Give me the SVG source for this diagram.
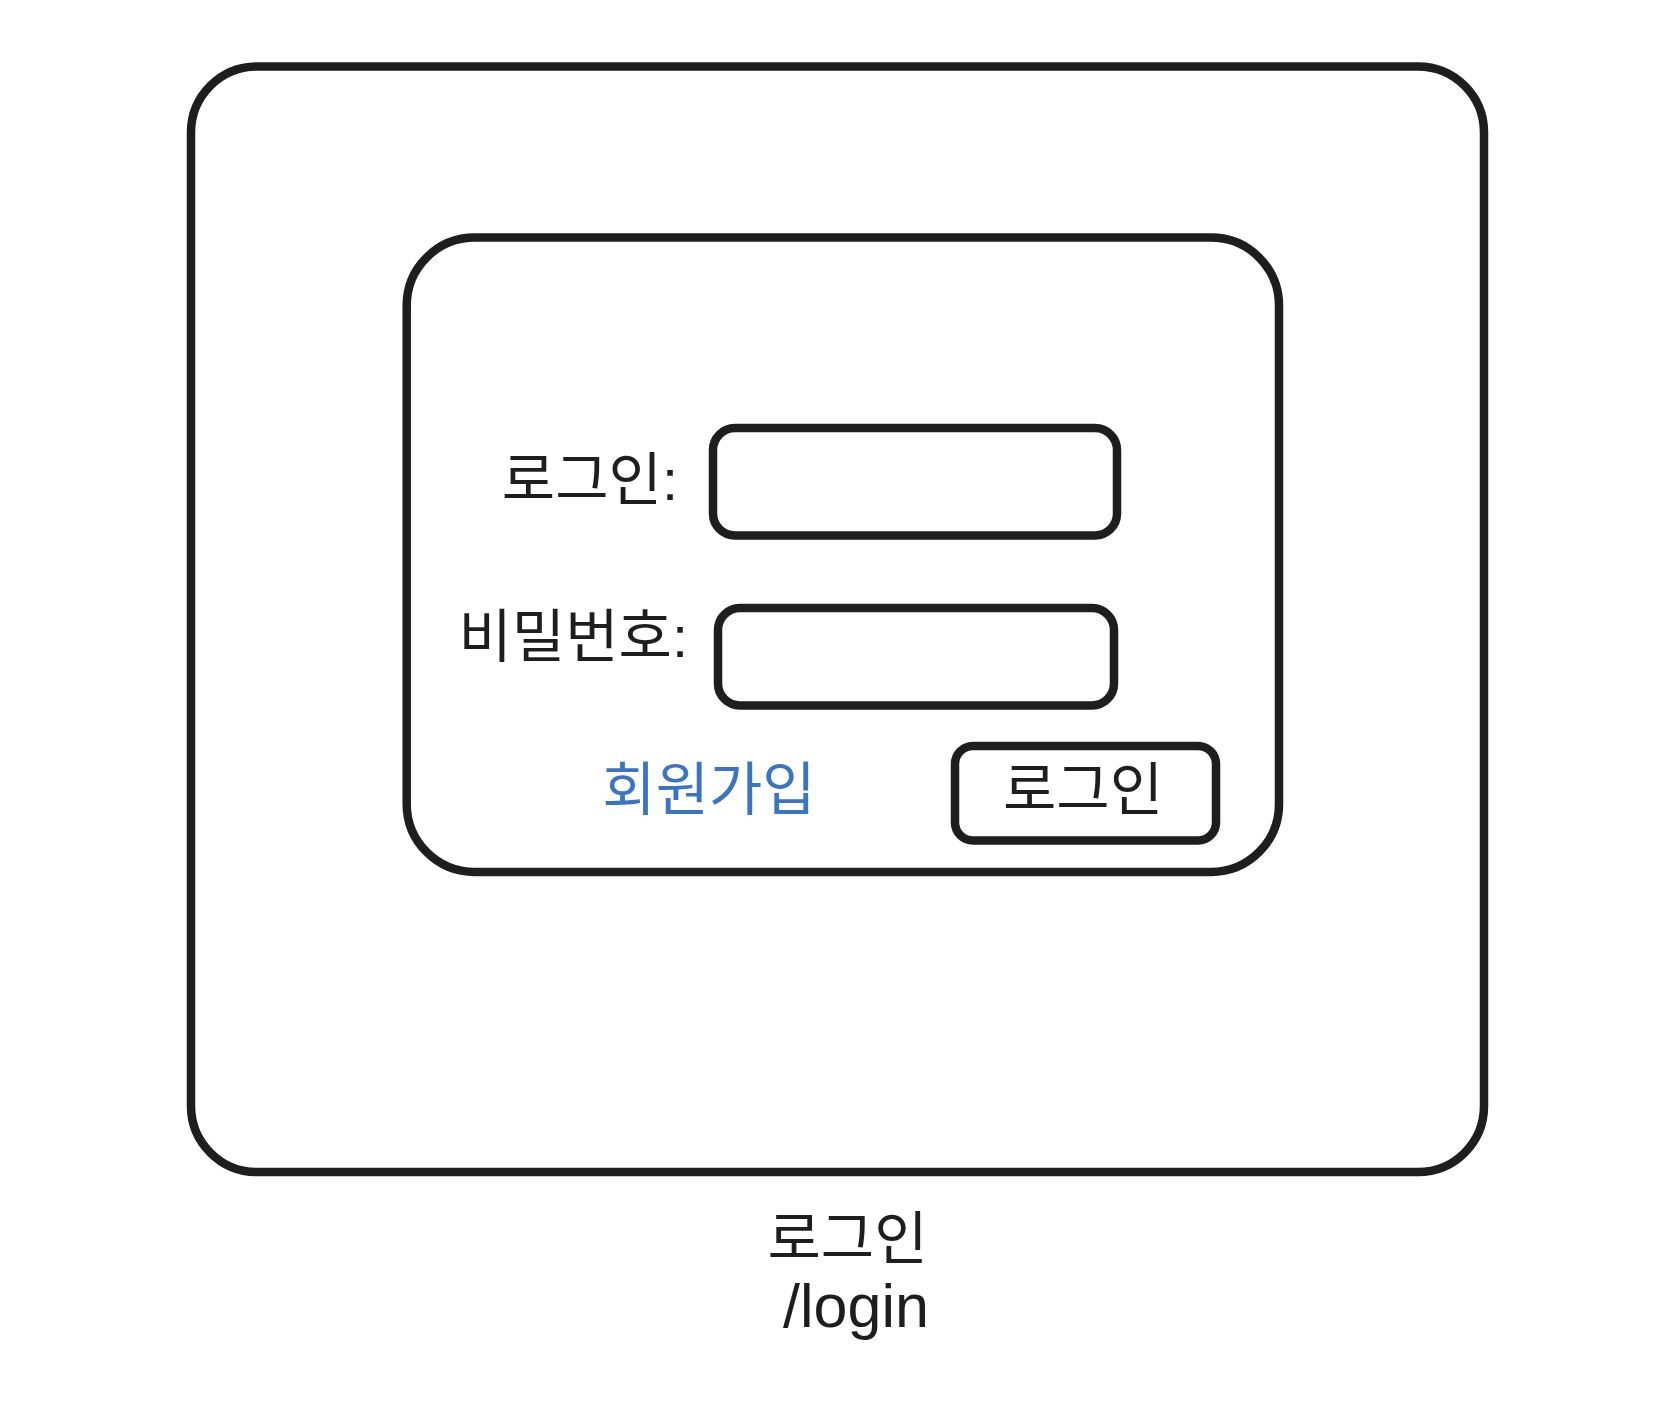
<svg xmlns="http://www.w3.org/2000/svg" width="1664" height="1416" viewBox="0 0 1664 1416">
<style>
.box{fill:#ffffff;stroke:#1e1e1e;stroke-width:8.5}
.t{font-family:"Liberation Sans","Noto Sans CJK KR",sans-serif;font-size:58px;fill:#1e1e1e}
.en{font-size:61px}
.link{fill:#3a74c2}
</style>
<rect x="0" y="0" width="1664" height="1416" fill="#ffffff"/>
<g id="page">
<rect class="box" x="191" y="66.5" width="1293" height="1105.5" rx="66" ry="66"/>
<text class="t" x="847.5" y="1259" text-anchor="middle">로그인</text>
<text class="t en" x="856" y="1327" text-anchor="middle">/login</text>
</g>
<g id="form">
<rect class="box" x="406.7" y="237.5" width="872.3" height="634.5" rx="68" ry="68"/>
</g>
<g id="login-label"><text class="t" x="678" y="500" text-anchor="end">로그인:</text></g>
<g id="login-input"><rect class="box" x="713" y="428" width="404" height="107.5" rx="22" ry="22"/></g>
<g id="password-label"><text class="t" x="688" y="657" text-anchor="end">비밀번호:</text></g>
<g id="password-input"><rect class="box" x="718" y="608" width="396" height="97.5" rx="22" ry="22"/></g>
<g id="signup-link"><text class="t link" x="709" y="810" text-anchor="middle">회원가입</text></g>
<g id="login-button">
<rect class="box" x="955" y="746" width="261" height="94.5" rx="18" ry="18"/>
<text class="t" x="1083" y="810" text-anchor="middle">로그인</text>
</g>
<g id="connectors"></g>
</svg>
